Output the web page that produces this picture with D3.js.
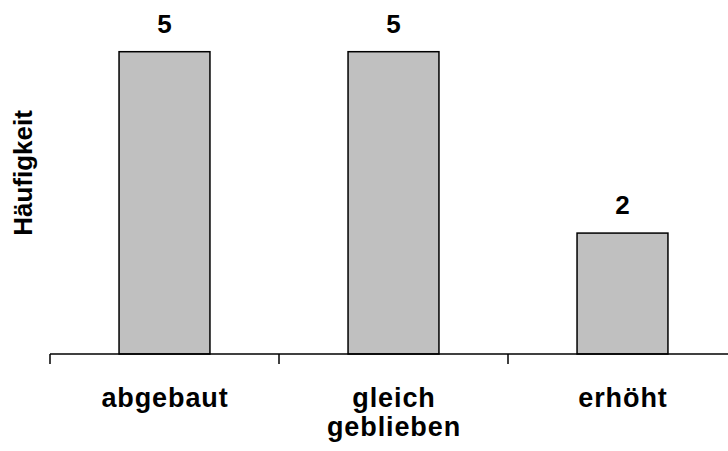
<!DOCTYPE html>
<html>
<head>
<meta charset="utf-8">
<script src="https://cdn.jsdelivr.net/npm/d3@7"></script>
<style>
  body { margin: 0; background: #fff; }
  text { font-family: "Liberation Sans", Arial, sans-serif; font-weight: bold; fill: #000; }
</style>
</head>
<body>
<div id="chart"></div>
<script>
// data
const categories = ['abgebaut', 'gleich geblieben', 'erhöht'];
const labelLines = [['abgebaut'], ['gleich', 'geblieben'], ['erhöht']];
const counts = [5, 5, 2];
const yTitle = 'Häufigkeit';

const width = 728,
      height = 451,
      left = 50,
      baseline = 354;

const svg = d3.select('#chart').append('svg')
  .attr('width', width)
  .attr('height', height);

const x = d3.scaleBand()
  .domain(categories)
  .range([left, left + 3 * 229])
  .paddingInner(0.603)
  .paddingOuter(0.3015);

const y = d3.scaleLinear()
  .domain([0, 5])
  .range([baseline, 51.7]);

// bars
svg.selectAll('rect.bar')
  .data(categories)
  .enter().append('rect')
  .attr('class', 'bar')
  .attr('x', (d) => x(d))
  .attr('y', (d, i) => y(counts[i]))
  .attr('width', x.bandwidth())
  .attr('height', (d, i) => y(0) - y(counts[i]))
  .style('fill', '#c0c0c0')
  .style('stroke', '#000')
  .style('stroke-width', 1.5);

// value labels above bars
svg.selectAll('text.value')
  .data(categories)
  .enter().append('text')
  .attr('class', 'value')
  .attr('x', (d) => x(d) + x.bandwidth() / 2)
  .attr('y', (d, i) => y(counts[i]) - 19)
  .attr('text-anchor', 'middle')
  .style('font-size', '26px')
  .text((d, i) => counts[i]);

// x axis: line plus ticks at band boundaries
svg.append('line')
  .attr('x1', x.range()[0])
  .attr('x2', x.range()[1])
  .attr('y1', y(0))
  .attr('y2', y(0))
  .style('stroke', '#000')
  .style('stroke-width', 1.5);

svg.selectAll('line.tick')
  .data(d3.range(categories.length + 1))
  .enter().append('line')
  .attr('class', 'tick')
  .attr('x1', (i) => x.range()[0] + i * x.step())
  .attr('x2', (i) => x.range()[0] + i * x.step())
  .attr('y1', y(0))
  .attr('y2', y(0) + 10)
  .style('stroke', '#000')
  .style('stroke-width', 1.5);

// category labels
const catLabels = svg.selectAll('text.cat')
  .data(categories)
  .enter().append('text')
  .attr('class', 'cat')
  .attr('text-anchor', 'middle')
  .style('font-size', '27px')
  .style('letter-spacing', '0.9px');

catLabels.each(function(d, i) {
  const t = d3.select(this);
  labelLines[i].forEach((line, j) => {
    t.append('tspan')
      .attr('x', x(d) + x.bandwidth() / 2 + 0.5)
      .attr('y', 407 + j * 29)
      .text(line);
  });
});

// y axis title
svg.append('text')
  .attr('transform', 'translate(32,173) rotate(-90)')
  .attr('text-anchor', 'middle')
  .style('font-size', '26px')
  .text(yTitle);
</script>
</body>
</html>
